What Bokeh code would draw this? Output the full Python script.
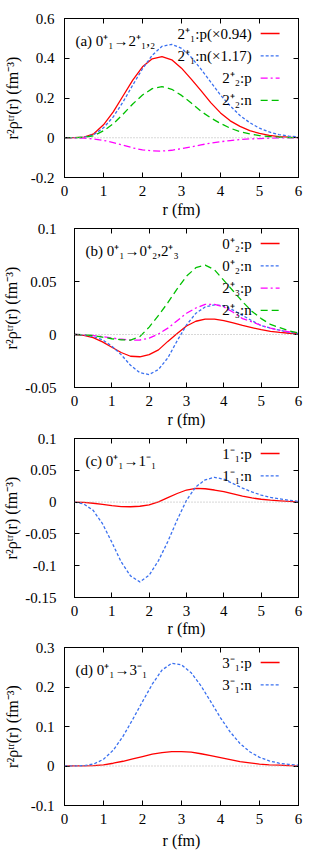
from bokeh.plotting import figure
from bokeh.models import Range1d, FixedTicker, LinearAxis, Label, Arrow, Span
from bokeh.embed import file_html
from bokeh.resources import INLINE

# ---------------- data ----------------
r = [0.0, 0.25, 0.5, 0.75, 1.0, 1.25, 1.5, 1.75, 2.0, 2.25, 2.5, 2.75, 3.0,
     3.25, 3.5, 3.75, 4.0, 4.25, 4.5, 4.75, 5.0, 5.25, 5.5, 5.75, 6.0]

# (a) 0+1 -> 2+1,2
a_p21 = [0, 0.0005, 0.003, 0.02, 0.065, 0.13, 0.21, 0.29, 0.357, 0.397, 0.408, 0.392, 0.35,
         0.295, 0.237, 0.177, 0.125, 0.085, 0.057, 0.036, 0.022, 0.012, 0.006, 0.003, 0.001]
a_n21 = [0, 0.0003, 0.002, 0.015, 0.05, 0.105, 0.18, 0.265, 0.347, 0.415, 0.46, 0.47, 0.45,
         0.405, 0.345, 0.28, 0.215, 0.16, 0.112, 0.076, 0.048, 0.029, 0.016, 0.008, 0.004]
a_p22 = [0, -0.0005, -0.002, -0.006, -0.013, -0.024, -0.037, -0.051, -0.061, -0.066, -0.067,
         -0.063, -0.055, -0.046, -0.036, -0.027, -0.02, -0.014, -0.009, -0.006, -0.004,
         -0.002, -0.001, -0.0005, 0]
a_n22 = [0, 0.0003, 0.002, 0.01, 0.035, 0.07, 0.118, 0.17, 0.215, 0.247, 0.257, 0.244, 0.213,
         0.175, 0.133, 0.1, 0.072, 0.048, 0.031, 0.019, 0.011, 0.006, 0.003, 0.001, 0]

# (b) 0+1 -> 0+2, 2+3
b_p02 = [0, -0.0008, -0.003, -0.007, -0.012, -0.017, -0.0205, -0.021, -0.019, -0.0145, -0.0065,
         0.001, 0.008, 0.0125, 0.0145, 0.0145, 0.013, 0.011, 0.0085, 0.0065, 0.0045, 0.003,
         0.002, 0.0012, 0.0006]
b_n02 = [0, -0.0005, -0.002, -0.005, -0.011, -0.019, -0.029, -0.036, -0.0378, -0.033, -0.022,
         -0.006, 0.009, 0.02, 0.026, 0.028, 0.027, 0.023, 0.018, 0.013, 0.0085, 0.006, 0.004,
         0.002, 0.001]
b_p23 = [0, -0.0003, -0.001, -0.002, -0.0032, -0.0045, -0.0053, -0.0052, -0.0035, 0.0005, 0.006,
         0.013, 0.02, 0.025, 0.0285, 0.0285, 0.026, 0.021, 0.015, 0.012, 0.0085, 0.006, 0.004,
         0.0025, 0.0015]
b_n23 = [0, -0.0003, -0.001, -0.0025, -0.004, -0.005, -0.0053, -0.002, 0.007, 0.018, 0.03,
         0.043, 0.055, 0.063, 0.0655, 0.061, 0.051, 0.041, 0.031, 0.022, 0.015, 0.0095, 0.0065,
         0.0035, 0.0015]

# (c) 0+1 -> 1-1
c_p11 = [0, -0.0005, -0.0018, -0.0035, -0.0055, -0.007, -0.0073, -0.0065, -0.0042, 0.0005,
         0.007, 0.0135, 0.019, 0.0215, 0.021, 0.019, 0.0165, 0.013, 0.0095, 0.0065, 0.0045,
         0.003, 0.002, 0.001, 0.0005]
c_n11 = [0, -0.003, -0.013, -0.034, -0.063, -0.094, -0.116, -0.1255, -0.115, -0.092, -0.062,
         -0.028, 0.003, 0.024, 0.035, 0.039, 0.036, 0.029, 0.022, 0.016, 0.011, 0.0075, 0.005,
         0.003, 0.001]

# (d) 0+1 -> 3-1
d_p31 = [0, 0.0001, 0.0003, 0.001, 0.003, 0.007, 0.012, 0.018, 0.024, 0.03, 0.034, 0.0362,
         0.0365, 0.035, 0.031, 0.026, 0.021, 0.016, 0.011, 0.008, 0.005, 0.003, 0.002, 0.001,
         0.0005]
d_n31 = [0, 0.0002, 0.001, 0.005, 0.017, 0.04, 0.075, 0.118, 0.163, 0.207, 0.243, 0.26, 0.256,
         0.236, 0.203, 0.163, 0.122, 0.086, 0.057, 0.036, 0.022, 0.013, 0.007, 0.004, 0.002]

x_ticks = [0, 1, 2, 3, 4, 5, 6]
x_tick_labels = ["0", "1", "2", "3", "4", "5", "6"]
a_yticks = [-0.2, 0, 0.2, 0.4, 0.6]
a_ylabels = ["-0.2", "0", "0.2", "0.4", "0.6"]
b_yticks = [-0.05, 0, 0.05, 0.1]
b_ylabels = ["-0.05", "0", "0.05", "0.1"]
c_yticks = [-0.15, -0.1, -0.05, 0, 0.05, 0.1]
c_ylabels = ["-0.15", "-0.1", "-0.05", "0", "0.05", "0.1"]
d_yticks = [-0.1, 0, 0.1, 0.2, 0.3]
d_ylabels = ["-0.1", "0", "0.1", "0.2", "0.3"]

a_names = ["2\u207a\u2081:p(\u00d70.94)", "2\u207a\u2081:n(\u00d71.17)", "2\u207a\u2082:p", "2\u207a\u2082:n"]
b_names = ["0\u207a\u2082:p", "0\u207a\u2082:n", "2\u207a\u2083:p", "2\u207a\u2083:n"]
c_names = ["1\u207b\u2081:p", "1\u207b\u2081:n"]
d_names = ["3\u207b\u2081:p", "3\u207b\u2081:n"]

titles = ["(a) 0\u207a\u2081\u21922\u207a\u2081,\u2082",
          "(b) 0\u207a\u2081\u21920\u207a\u2082,2\u207a\u2083",
          "(c) 0\u207a\u2081\u21921\u207b\u2081",
          "(d) 0\u207a\u2081\u21923\u207b\u2081"]

x_label = "r (fm)"
y_label = "r\u00b2\u03c1\u1d57\u02b3(r) (fm\u207b\u00b3)"

# ---------------- styles ----------------
FONT = "Liberation Serif"
FS = "15px"
RED = "#ff0000"
BLUE = "#3a70f0"
MAG = "#ff00ff"
GRN = "#00c000"
STY = [
    dict(line_color=RED, line_dash="solid", line_width=1.3),
    dict(line_color=BLUE, line_dash="3 2", line_width=1.3),
    dict(line_color=MAG, line_dash="7 3 2 3", line_width=1.3),
    dict(line_color=GRN, line_dash="7 4", line_width=1.3),
]


def panel(ytick, ylab, series, names, title, left, top, frame_h, height,
          ytick_standoff, ylabel_standoff, xlabel_standoff):
    width = 310
    right = 12
    frame_w = width - left - right
    ymin, ymax = ytick[0], ytick[-1]
    p = figure(width=width, height=height, x_range=Range1d(0, 6), y_range=Range1d(ymin, ymax),
               output_backend="svg", toolbar_location=None,
               min_border_left=left, min_border_right=right, min_border_top=top,
               min_border_bottom=height - top - frame_h)
    p.grid.visible = False
    p.outline_line_color = "black"
    p.outline_line_width = 1
    p.background_fill_color = "white"
    p.border_fill_color = "white"

    p.xaxis.ticker = FixedTicker(ticks=x_ticks)
    p.xaxis.major_label_overrides = dict(zip(x_ticks, x_tick_labels))
    p.yaxis.ticker = FixedTicker(ticks=ytick)
    p.yaxis.major_label_overrides = dict(zip(ytick, ylab))
    for ax in p.xaxis + p.yaxis:
        ax.major_tick_in = 5
        ax.major_tick_out = 0
        ax.minor_tick_line_color = None
        ax.axis_line_color = "black"
        ax.major_label_text_font = FONT
        ax.major_label_text_font_size = FS
        ax.major_label_text_color = "black"
        ax.axis_label_text_font = FONT
        ax.axis_label_text_font_size = "16px"
        ax.axis_label_text_font_style = "normal"
        ax.axis_label_text_color = "black"
    p.xaxis.axis_label = x_label
    p.xaxis.major_label_standoff = 8
    p.xaxis.axis_label_standoff = xlabel_standoff
    p.yaxis.axis_label = y_label
    p.yaxis.major_label_standoff = ytick_standoff
    p.yaxis.axis_label_standoff = ylabel_standoff

    # mirrored ticks (no labels)
    for loc, tk in (("right", ytick), ("above", x_ticks)):
        ax = LinearAxis(ticker=FixedTicker(ticks=tk), major_tick_in=5, major_tick_out=0,
                        minor_tick_line_color=None, major_label_text_color=None,
                        major_label_standoff=0, axis_line_color="black")
        p.add_layout(ax, loc)

    p.add_layout(Span(location=0, dimension="width", line_color="#b0b0b0",
                      line_dash="1 2", line_width=1))

    for ys, st in zip(series, STY):
        p.line(r, ys, **st)

    def xd_from_right(px):
        return 6 - px / frame_w * 6

    def xd_from_left(px):
        return px / frame_w * 6

    def yd(px):
        return ymax - px / frame_h * (ymax - ymin)

    # legend (gnuplot style: label then sample)
    for i, (nm, st) in enumerate(zip(names, STY)):
        yy = yd(15 + 22.3 * i)
        p.add_layout(Label(x=xd_from_right(47), y=yy, text=nm, text_font=FONT,
                           text_font_size=FS, text_align="right", text_baseline="middle",
                           text_color="black"))
        p.add_layout(Arrow(x_start=xd_from_right(38), y_start=yy, x_end=xd_from_right(19),
                           y_end=yy, start=None, end=None, **st))

    p.add_layout(Label(x=xd_from_left(11), y=yd(22), text=title, text_font=FONT,
                       text_font_size=FS, text_align="left", text_baseline="middle",
                       text_color="black"))
    return p


pa = panel(a_yticks, a_ylabels, [a_p21, a_n21, a_p22, a_n22], a_names, titles[0],
           63, 18, 159, 222, 10, 7, 2)
pb = panel(b_yticks, b_ylabels, [b_p02, b_n02, b_p23, b_n23], b_names, titles[1],
           73, 6, 159, 210, 18, 2, 2)
pc = panel(c_yticks, c_ylabels, [c_p11, c_n11], c_names, titles[2],
           73, 6, 159, 209, 18, 2, 1)
pd = panel(d_yticks, d_ylabels, [d_p31, d_n31], d_names, titles[3],
           63, 6, 158, 213, 10, 7, 5)

# separate roots so that the frames are not aligned with each other
open("out.html", "w").write(file_html([pa, pb, pc, pd], INLINE))
